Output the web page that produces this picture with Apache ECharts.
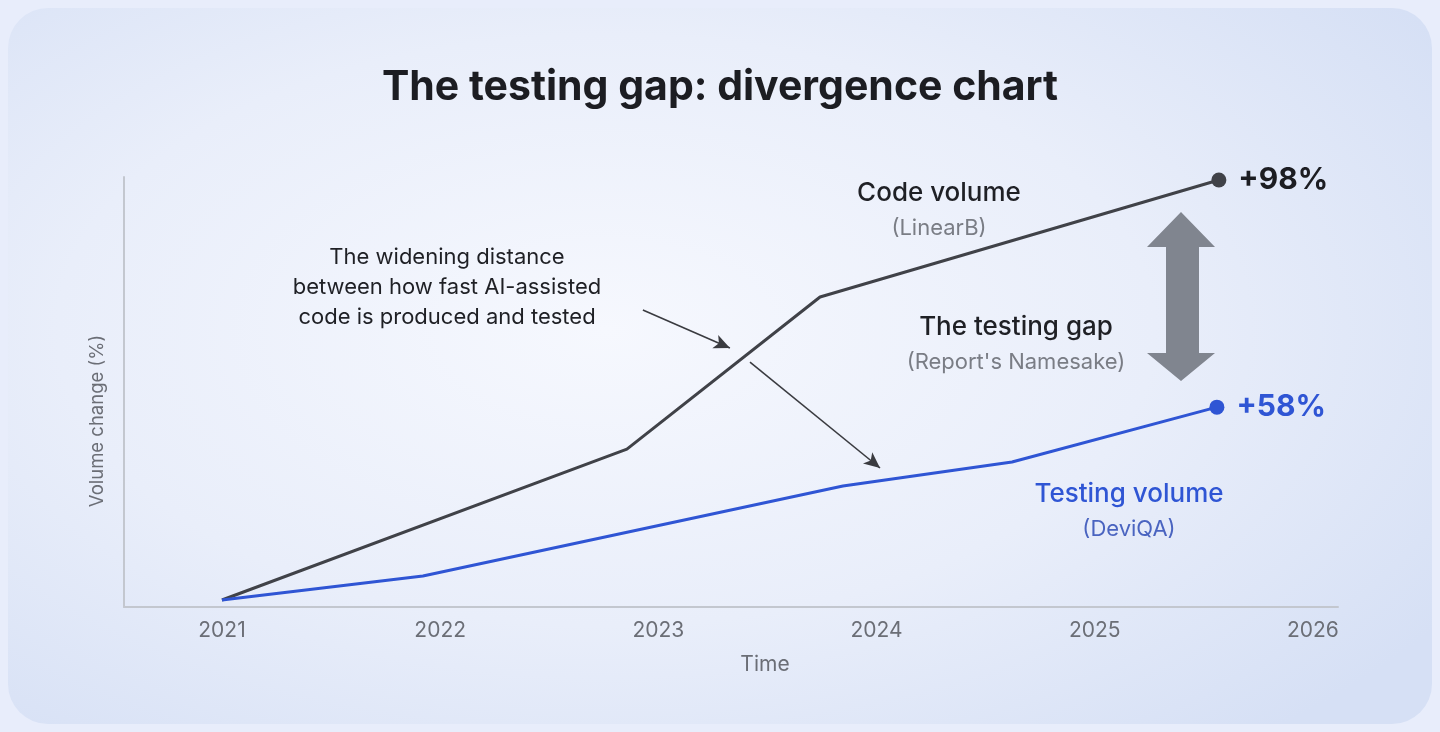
<!DOCTYPE html>
<html>
<head>
<meta charset="utf-8">
<script src="https://cdn.jsdelivr.net/npm/echarts@6/dist/echarts.min.js"></script>
<style>
  html, body { margin: 0; padding: 0; background: #e8edfb; }
  .frame { position: relative; width: 1440px; height: 732px; overflow: hidden; }
  .card {
    position: absolute; left: 8px; top: 8px; right: 8px; bottom: 8px;
    border-radius: 40px;
    background: radial-gradient(ellipse 70% 75% at 42% 45%, #f6f8fe 0%, #e9eefa 55%, #d6e0f5 100%);
  }
  #chart { position: absolute; left: 0; top: 0; width: 1440px; height: 732px; }
</style>
</head>
<body>
<div class="frame">
  <div class="card"></div>
  <div id="chart"></div>
</div>
<script>
// years on x, relative volume on y (picture scale, 98 = end of code line)
const years = [2021, 2022, 2023, 2024, 2025, 2026]
const codeX = [2021, 2022.856, 2023.741, 2025.569]
const codeY = [0, 35.2, 70.7, 98]
const testX = [2021, 2021.921, 2023.846, 2024.621, 2025.56]
const testY = [0, 5.6, 26.6, 32.2, 45]
const codeEndLabel = '+98%'
const testEndLabel = '+58%'

const FONT = 'Inter, "Noto Sans", sans-serif'
const DARK = '#404248'
const BLUE = '#2f55d4'
const GREY_TEXT = '#6b6e76'

const toPoints = (xs, ys, endLabel, color) => xs.map((x, i) => {
  const last = i === xs.length - 1
  return {
    value: [x, ys[i]],
    symbol: last ? 'circle' : 'none',
    symbolSize: 15,
    label: last ? {
      show: true,
      position: 'right',
      distance: 12,
      formatter: endLabel,
      color: color,
      fontSize: 30,
      fontWeight: 'bold',
      fontFamily: FONT,
    } : { show: false },
  }
})

const chart = echarts.init(document.getElementById('chart'))

const option = {
  backgroundColor: 'transparent',
  animation: false,
  title: {
    text: 'The testing gap: divergence chart',
    left: 'center',
    top: 62,
    textStyle: { fontFamily: FONT, fontSize: 41, fontWeight: 'bold', color: '#1c1d22' },
  },
  grid: { left: 124, right: 102, top: 177, bottom: 125 },
  xAxis: {
    type: 'value',
    min: 2020.551,
    max: 2026.115,
    axisLine: { show: true, onZero: false, lineStyle: { color: '#c3c7cf', width: 2 } },
    axisTick: { show: false },
    splitLine: { show: false },
    axisLabel: {
      customValues: years,
      color: GREY_TEXT,
      fontSize: 21,
      fontFamily: FONT,
      margin: 13,
      formatter: (v) => String(Math.round(v)),
    },
  },
  yAxis: {
    type: 'value',
    min: -1.633,
    max: 98.7,
    axisLine: { show: true, onZero: false, lineStyle: { color: '#c3c7cf', width: 2 } },
    axisTick: { show: false },
    splitLine: { show: false },
    axisLabel: { show: false },
  },
  series: [
    {
      name: 'Code volume',
      type: 'line',
      data: toPoints(codeX, codeY, codeEndLabel, '#1c1d22'),
      lineStyle: { color: DARK, width: 3 },
      itemStyle: { color: DARK },
      markLine: {
        silent: true,
        symbol: ['none', 'arrow'],
        symbolSize: [11, 16],
        label: { show: false },
        lineStyle: { color: '#3a3b40', width: 1.6, type: 'solid' },
        data: [
          [{ coord: [2022.929, 67.67] }, { coord: [2023.328, 58.8] }],
          [{ coord: [2023.42, 55.5] }, { coord: [2024.016, 30.8] }],
        ],
      },
    },
    {
      name: 'Testing volume',
      type: 'line',
      data: toPoints(testX, testY, testEndLabel, BLUE),
      lineStyle: { color: BLUE, width: 3 },
      itemStyle: { color: BLUE },
    },
  ],
  graphic: [
    {
      type: 'polygon',
      shape: {
        points: [
          [1181, 212], [1215, 247], [1199, 247], [1199, 353], [1215, 353],
          [1181, 381], [1147, 353], [1166, 353], [1166, 247], [1147, 247],
        ],
      },
      style: { fill: '#80858f' },
    },
    {
      type: 'text', x: 97, y: 421, rotation: Math.PI / 2,
      style: { text: 'Volume change (%)', fill: GREY_TEXT, font: '18.5px ' + FONT, align: 'center', verticalAlign: 'middle' },
    },
    {
      type: 'text', x: 765, y: 665,
      style: { text: 'Time', fill: GREY_TEXT, font: '21px ' + FONT, align: 'center', verticalAlign: 'middle' },
    },
    {
      type: 'text', x: 447, y: 287,
      style: {
        text: 'The widening distance\nbetween how fast AI-assisted\ncode is produced and tested',
        fill: '#1f2025', font: '22px ' + FONT, lineHeight: 30, align: 'center', verticalAlign: 'middle',
      },
    },
    {
      type: 'text', x: 939, y: 193,
      style: { text: 'Code volume', fill: '#1f2025', font: '500 26px ' + FONT, align: 'center', verticalAlign: 'middle' },
    },
    {
      type: 'text', x: 939, y: 228,
      style: { text: '(LinearB)', fill: '#7a7d85', font: '22px ' + FONT, align: 'center', verticalAlign: 'middle' },
    },
    {
      type: 'text', x: 1016, y: 327,
      style: { text: 'The testing gap', fill: '#1f2025', font: '500 26px ' + FONT, align: 'center', verticalAlign: 'middle' },
    },
    {
      type: 'text', x: 1016, y: 362,
      style: { text: "(Report's Namesake)", fill: '#7a7d85', font: '22px ' + FONT, align: 'center', verticalAlign: 'middle' },
    },
    {
      type: 'text', x: 1129, y: 494,
      style: { text: 'Testing volume', fill: BLUE, font: '500 26px ' + FONT, align: 'center', verticalAlign: 'middle' },
    },
    {
      type: 'text', x: 1129, y: 529,
      style: { text: '(DeviQA)', fill: '#4a64c0', font: '22px ' + FONT, align: 'center', verticalAlign: 'middle' },
    },
  ],
}

chart.setOption(option)
</script>
</body>
</html>
